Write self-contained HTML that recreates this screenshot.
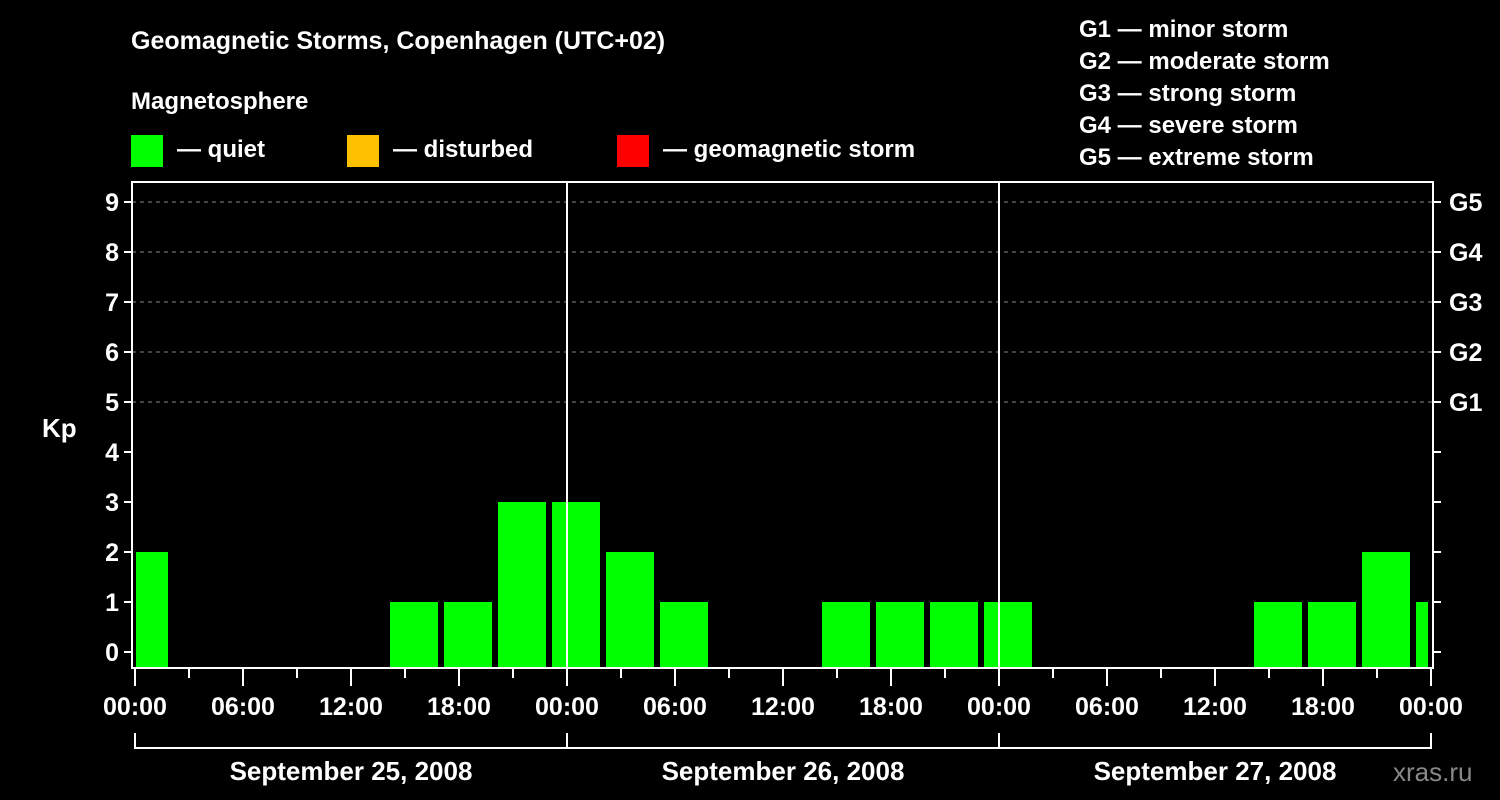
<!DOCTYPE html>
<html><head><meta charset="utf-8"><style>
html,body{margin:0;padding:0;background:#000;}
svg{display:block;font-family:"Liberation Sans",Arial,sans-serif;font-weight:bold;}
</style></head><body>
<svg id="chart" width="1500" height="800" viewBox="0 0 1500 800" xmlns="http://www.w3.org/2000/svg">
<rect width="1500" height="800" fill="#000"/>
<text x="131" y="49" fill="#fff" font-size="25">Geomagnetic Storms, Copenhagen (UTC+02)</text>
<text x="131" y="109" fill="#fff" font-size="24">Magnetosphere</text>
<g>
<rect x="131" y="135" width="32" height="32" fill="#00ff00"/>
<text x="177" y="157" fill="#fff" font-size="24">— quiet</text>
<rect x="347" y="135" width="32" height="32" fill="#ffc000"/>
<text x="393" y="157" fill="#fff" font-size="24">— disturbed</text>
<rect x="617" y="135" width="32" height="32" fill="#ff0000"/>
<text x="663" y="157" fill="#fff" font-size="24">— geomagnetic storm</text>
</g>
<g fill="#fff" font-size="24">
<text x="1079" y="37">G1 — minor storm</text>
<text x="1079" y="69">G2 — moderate storm</text>
<text x="1079" y="101">G3 — strong storm</text>
<text x="1079" y="133">G4 — severe storm</text>
<text x="1079" y="165">G5 — extreme storm</text>
</g>
<g id="grid"></g>
<g id="bars"></g>
<g id="axes"></g>
<text x="42" y="437" fill="#fff" font-size="26">Kp</text>
<text x="1393" y="781" fill="#888" font-size="26" font-weight="normal">xras.ru</text>
</svg>
<script>
const kpValues = [2,0,0,0,0,1,1,3,3, 2,1,0,0,1,1,1,1, 0,0,0,0,1,1,2,1];
const yTicks = [0,1,2,3,4,5,6,7,8,9];
const gLabels = ["G1","G2","G3","G4","G5"];
const gLevels = [5,6,7,8,9];
const hourLabels = ["00:00","06:00","12:00","18:00"];
const dayLabels = ["September 25, 2008","September 26, 2008","September 27, 2008"];

const NS="http://www.w3.org/2000/svg";
const L=132,R=1433,T=182,B=668,X0=135,PXH=18;
const xh=h=>X0+h*PXH;
const yv=v=>652-50*v;
function mk(tag,attrs,parent,txt){const e=document.createElementNS(NS,tag);for(const k in attrs)e.setAttribute(k,attrs[k]);if(txt!==undefined)e.textContent=txt;parent.appendChild(e);return e;}
const grid=document.getElementById('grid'),bars=document.getElementById('bars'),axes=document.getElementById('axes');
gLevels.forEach(v=>{const l=mk('line',{x1:L,x2:R,y1:yv(v),y2:yv(v),stroke:'#888','stroke-dasharray':'4,4','stroke-width':1},grid);

});
kpValues.forEach((v,i)=>{if(v<=0)return;const s=-1+3*i;let x1=xh(s)+3,x2=xh(s+3)-3;x1=Math.max(x1,L+4);x2=Math.min(x2,R-5);
const r=mk('rect',{x:x1,y:yv(v),width:x2-x1,height:B-1-yv(v),fill:v>=5?'#ff0000':(v>=4?'#ffc000':'#00ff00')},bars);

});
// day separators
for(let d=1;d<3;d++){const l=mk('line',{x1:xh(24*d),x2:xh(24*d),y1:T,y2:B,stroke:'#fff','stroke-width':2},axes);

}
const fr=mk('rect',{x:L,y:T,width:R-L,height:B-T,fill:'none',stroke:'#fff','stroke-width':2},axes);


yTicks.forEach(v=>{mk('line',{x1:L-8,x2:L,y1:yv(v),y2:yv(v),stroke:'#fff','stroke-width':2},axes);
mk('line',{x1:R,x2:R+8,y1:yv(v),y2:yv(v),stroke:'#fff','stroke-width':2},axes);
const t=mk('text',{x:L-13,y:yv(v)+9,fill:'#fff','font-size':25,'text-anchor':'end'},axes,String(v));

});
gLabels.forEach((g,i)=>{const t=mk('text',{x:1449,y:yv(gLevels[i])+9,fill:'#fff','font-size':25},axes,g);

});
for(let h=0;h<=72;h+=3){const major=h%6===0;mk('line',{x1:xh(h),x2:xh(h),y1:B,y2:major?686:678,stroke:'#fff','stroke-width':2},axes);
if(major){const t=mk('text',{x:xh(h),y:715,fill:'#fff','font-size':25,'text-anchor':'middle'},axes,hourLabels[(h/6)%4]);

}}
mk('line',{x1:xh(0),x2:xh(72),y1:748,y2:748,stroke:'#fff','stroke-width':2},axes);
for(let d=0;d<=3;d++)mk('line',{x1:xh(24*d),x2:xh(24*d),y1:733,y2:749,stroke:'#fff','stroke-width':2},axes);
dayLabels.forEach((s,d)=>{const t=mk('text',{x:xh(24*d+12),y:780,fill:'#fff','font-size':26,'text-anchor':'middle'},axes,s);

});
</script>
</body></html>
